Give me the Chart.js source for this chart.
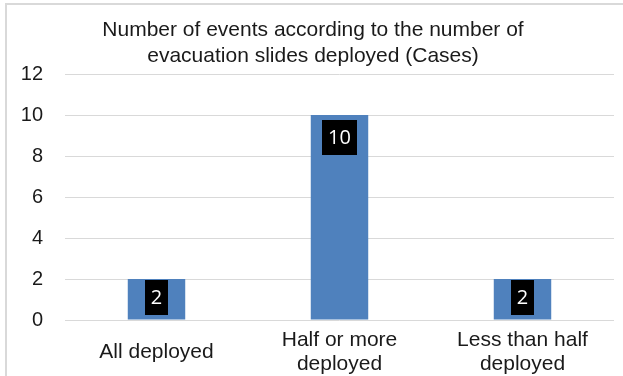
<!DOCTYPE html>
<html>
<head>
<meta charset="utf-8">
<script src="https://cdn.jsdelivr.net/npm/chart.js@4/dist/chart.umd.min.js"></script>
<style>
  html, body { margin: 0; padding: 0; background: #fff; }
  #wrap { width: 623px; height: 376px; }
</style>
</head>
<body>
<div id="wrap"><canvas id="chart" width="623" height="376"></canvas></div>
<script>
// chart data
const categories = [['All deployed'], ['Half or more', 'deployed'], ['Less than half', 'deployed']];
const values = [2, 10, 2];
const yTicks = [0, 2, 4, 6, 8, 10, 12];
const titleLines = ['Number of events according to the number of', 'evacuation slides deployed (Cases)'];

// light grey frame round the whole chart, open at right and bottom like the crop
const framePlugin = {
  id: 'frame',
  beforeDraw(chart) {
    const ctx = chart.ctx;
    ctx.save();
    ctx.strokeStyle = '#d9d9d9';
    ctx.lineWidth = 2;
    ctx.strokeRect(6, 4, 700, 500);
    ctx.restore();
  }
};

// black value boxes inside the top of each bar
const valueBoxPlugin = {
  id: 'valueBox',
  afterDatasetsDraw(chart) {
    const ctx = chart.ctx;
    const meta = chart.getDatasetMeta(0);
    const base = chart.scales.y.getPixelForValue(0);
    ctx.save();
    ctx.font = '20px "Open Sans"';
    ctx.textAlign = 'center';
    ctx.textBaseline = 'middle';
    meta.data.forEach((bar, i) => {
      const txt = String(values[i]);
      const w = ctx.measureText(txt).width + 12;
      const h = 35;
      const top = Math.min(bar.y + 5, base - h - 5);
      ctx.fillStyle = '#000';
      ctx.fillRect(Math.round(bar.x - w / 2), top, Math.round(w), h);
      ctx.fillStyle = '#fff';
      ctx.fillText(txt, bar.x, top + h / 2 + 1);
    });
    ctx.restore();
  }
};

new Chart(document.getElementById('chart'), {
  type: 'bar',
  data: {
    labels: categories,
    datasets: [{
      data: values,
      backgroundColor: '#4f81bd',
      categoryPercentage: 1,
      barPercentage: 0.314
    }]
  },
  options: {
    responsive: false,
    animation: false,
    layout: { padding: { left: 12, right: 9, top: 0, bottom: 0 } },
    plugins: {
      legend: { display: false },
      tooltip: { enabled: false },
      title: {
        display: true,
        text: titleLines,
        color: '#1a1a1a',
        font: { family: '"Liberation Sans", Arial, sans-serif', size: 21, weight: 'normal', lineHeight: 1.25 },
        padding: { top: 17, bottom: 4.5 }
      }
    },
    scales: {
      x: {
        afterFit(scale) { scale.height = 56; },
        grid: { display: false, drawTicks: false },
        border: { display: false },
        ticks: {
          color: '#1a1a1a',
          padding: 20,
          crossAlign: 'center',
          maxRotation: 0,
          autoSkip: false,
          font: { family: '"Liberation Sans", Arial, sans-serif', size: 21, lineHeight: 24 / 21 }
        }
      },
      y: {
        min: yTicks[0],
        max: yTicks[yTicks.length - 1],
        afterFit(scale) { scale.width = 53; },
        afterBuildTicks(scale) { scale.ticks = yTicks.map(v => ({ value: v })); },
        grid: { color: '#d9d9d9', lineWidth: 1, drawTicks: false },
        border: { display: false },
        ticks: {
          color: '#1a1a1a',
          padding: 22,
          font: { family: '"Liberation Sans", Arial, sans-serif', size: 20 },
          callback: v => String(v)
        }
      }
    }
  },
  plugins: [framePlugin, valueBoxPlugin]
});
</script>
</body>
</html>
